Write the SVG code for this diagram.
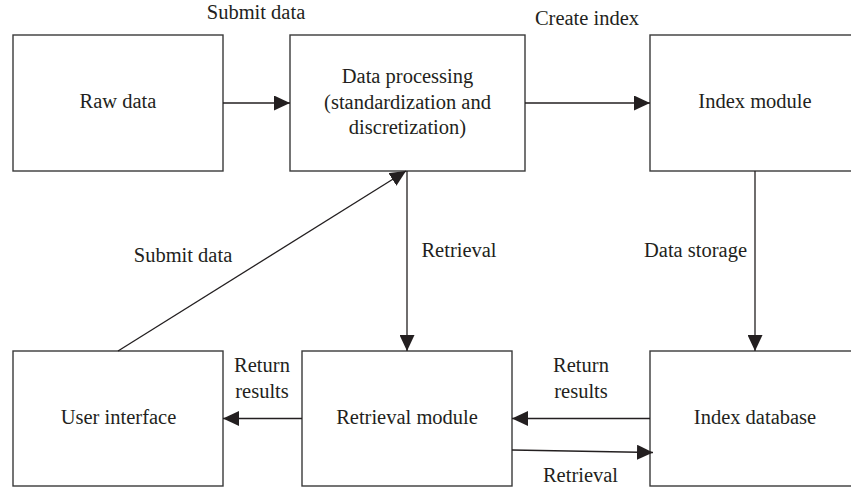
<svg xmlns="http://www.w3.org/2000/svg" width="851" height="487" viewBox="0 0 851 487">
  <style>
    .box { fill: #ffffff; stroke: #3a3a3a; stroke-width: 1.4; }
    .link { fill: none; stroke: #231f20; stroke-width: 1.3; }
    text { font-family: "Liberation Serif", "Times New Roman", serif; font-size: 20.5px; fill: #231f20; text-anchor: middle; }
  </style>
  <defs>
    <marker id="arrow" markerUnits="userSpaceOnUse" markerWidth="16" markerHeight="15" refX="16" refY="7.5" orient="auto">
      <path d="M0,0 L16,7.5 L0,15 Z" fill="#231f20"/>
    </marker>
  </defs>
  <rect width="851" height="487" fill="#ffffff"/>

  <g id="raw-data">
    <rect class="box" x="13" y="35" width="210" height="136"/>
    <text x="118" y="108">Raw data</text>
  </g>

  <g id="data-processing">
    <rect class="box" x="290" y="35" width="235" height="136"/>
    <text x="407.5" y="83">Data processing</text>
    <text x="407.5" y="108.5">(standardization and</text>
    <text x="407.5" y="134">discretization)</text>
  </g>

  <g id="index-module">
    <rect class="box" x="650" y="35" width="210" height="136"/>
    <text x="755" y="108">Index module</text>
  </g>

  <g id="user-interface">
    <rect class="box" x="13" y="351" width="210" height="135"/>
    <text x="118.5" y="424">User interface</text>
  </g>

  <g id="retrieval-module">
    <rect class="box" x="302" y="351" width="210" height="135"/>
    <text x="407" y="424">Retrieval module</text>
  </g>

  <g id="index-database">
    <rect class="box" x="650" y="351" width="210" height="135"/>
    <text x="755" y="424">Index database</text>
  </g>

  <g id="connectors">
    <line class="link" x1="223" y1="103" x2="290" y2="103" marker-end="url(#arrow)"/>
    <line class="link" x1="525" y1="103" x2="650" y2="103" marker-end="url(#arrow)"/>
    <line class="link" x1="755" y1="171" x2="755" y2="351" marker-end="url(#arrow)"/>
    <line class="link" x1="407" y1="171" x2="407" y2="351" marker-end="url(#arrow)"/>
    <line class="link" x1="118" y1="351" x2="406" y2="171" marker-end="url(#arrow)"/>
    <line class="link" x1="302" y1="418.5" x2="223" y2="418.5" marker-end="url(#arrow)"/>
    <line class="link" x1="650" y1="418.5" x2="512" y2="418.5" marker-end="url(#arrow)"/>
    <line class="link" x1="512" y1="450" x2="653" y2="452.5" marker-end="url(#arrow)"/>

    <text x="256" y="19">Submit data</text>
    <text x="587" y="24.5">Create index</text>
    <text x="183" y="262">Submit data</text>
    <text x="459" y="257">Retrieval</text>
    <text x="695.5" y="257">Data storage</text>
    <text x="262" y="372">Return</text>
    <text x="262" y="398">results</text>
    <text x="581" y="372">Return</text>
    <text x="581" y="398">results</text>
    <text x="580.5" y="482">Retrieval</text>
  </g>
</svg>
